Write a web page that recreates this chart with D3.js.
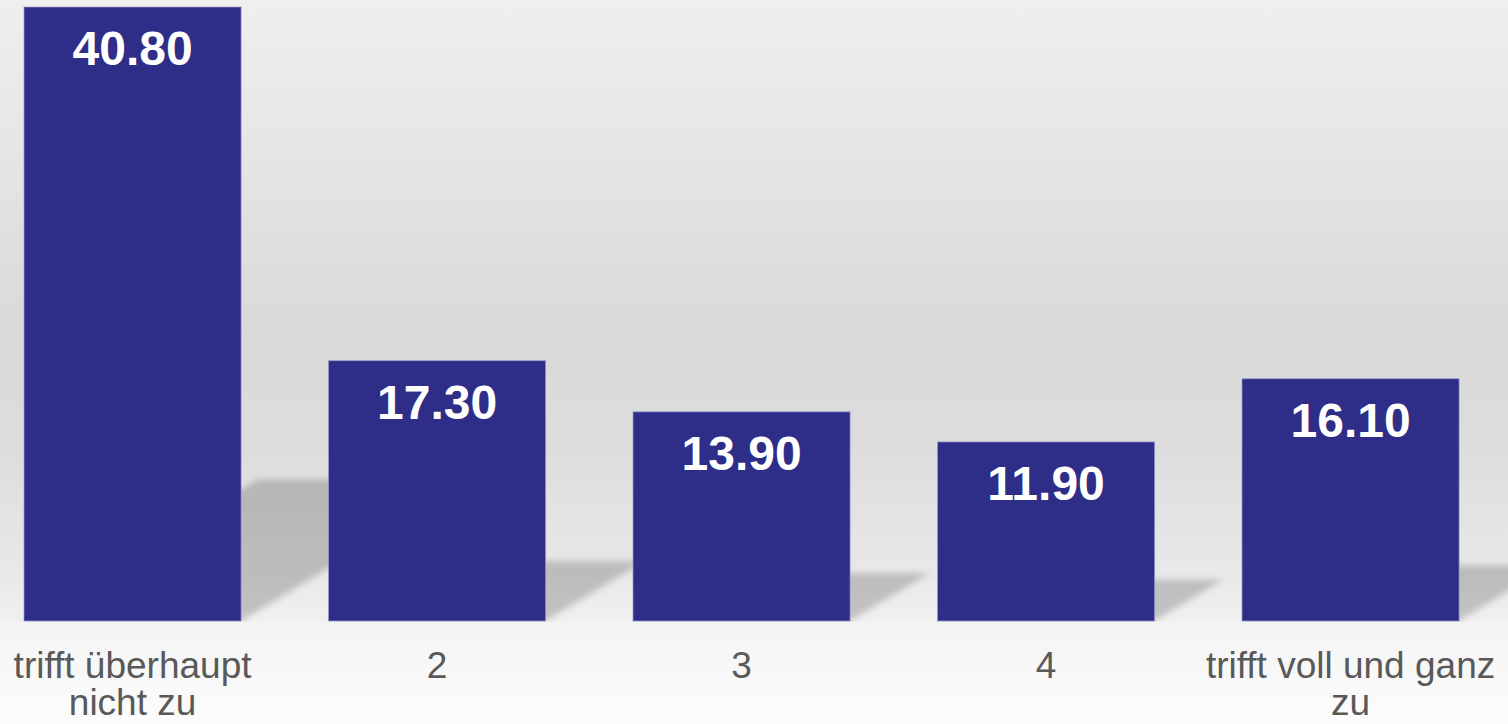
<!DOCTYPE html>
<html>
<head>
<meta charset="utf-8">
<script src="https://cdn.jsdelivr.net/npm/d3@7"></script>
<style>
  html, body { margin: 0; padding: 0; background: #ffffff; }
  svg { display: block; }
</style>
</head>
<body>
<svg id="chart" width="1508" height="724"></svg>
<script>
// Answer categories and their shares
const categories = ["trifft überhaupt nicht zu", "2", "3", "4", "trifft voll und ganz zu"];
const values = [40.80, 17.30, 13.90, 11.90, 16.10];
const valueLabels = ["40.80", "17.30", "13.90", "11.90", "16.10"];

const width = 1508, height = 724;
const baseY = 621, topY = 7;

const svg = d3.select("#chart");
const defs = svg.append("defs");

// Background: soft grey studio gradient with a lighter floor
const bg = defs.append("linearGradient")
  .attr("id", "bgGrad").attr("x1", 0).attr("y1", 0).attr("x2", 0).attr("y2", 1);
[[0, "#efefef"], [0.2, "#e6e6e6"], [0.46, "#d9d9d9"], [0.62, "#dddddd"],
 [0.8, "#e9e9e9"], [0.857, "#f0f0f0"], [0.86, "#f4f4f4"], [1, "#fcfcfc"]]
  .forEach(([o, c]) => bg.append("stop").attr("offset", o).attr("stop-color", c));

svg.append("rect").attr("width", width).attr("height", height).attr("fill", "url(#bgGrad)");

// Blur for cast shadows
defs.append("filter").attr("id", "shadowBlur")
  .attr("x", "-20%").attr("y", "-20%").attr("width", "140%").attr("height", "140%")
  .append("feGaussianBlur").attr("stdDeviation", 3);

defs.append("clipPath").attr("id", "floorClip")
  .append("rect").attr("x", 0).attr("y", 0).attr("width", width).attr("height", baseY + 1);

const x = d3.scaleBand()
  .domain(categories)
  .range([-19.7, 1502.8])
  .paddingInner(0.287)
  .paddingOuter(0.1435);

const y = d3.scaleLinear().domain([0, 40.8]).range([baseY, topY]);

const data = categories.map((c, i) => ({ cat: c, value: values[i], label: valueLabels[i] }));

// Cast shadows, skewed to the right of each bar
const shadowPath = d => {
  const L = x(d.cat), R = x(d.cat) + x.bandwidth();
  const b = y(0), h = y(0) - y(d.value);
  const dx = 0.38 * h, dy = 0.23 * h;
  return `M${L},${b} L${R},${b} L${R + dx},${b - dy} L${L + dx},${b - dy} Z`;
};

svg.append("g").attr("clip-path", "url(#floorClip)")
  .selectAll("path.shadow").data(data).join("path")
  .attr("class", "shadow")
  .attr("d", shadowPath)
  .attr("fill", "#000")
  .attr("fill-opacity", 0.19)
  .attr("filter", "url(#shadowBlur)");

// Bars
svg.append("g").selectAll("rect.bar").data(data).join("rect")
  .attr("class", "bar")
  .attr("x", d => x(d.cat))
  .attr("y", d => y(d.value))
  .attr("width", x.bandwidth())
  .attr("height", d => y(0) - y(d.value))
  .attr("fill", "#2e2d88")
  .attr("stroke", "#9c9cd0")
  .attr("stroke-opacity", 0.7)
  .attr("stroke-width", 1);

// Value labels inside the top of each bar
svg.append("g").selectAll("text.value").data(data).join("text")
  .attr("class", "value")
  .attr("x", d => x(d.cat) + x.bandwidth() / 2)
  .attr("y", d => y(d.value) + 58)
  .attr("text-anchor", "middle")
  .attr("fill", "#ffffff")
  .attr("font-family", "Liberation Sans, Arial, sans-serif")
  .attr("font-weight", "bold")
  .attr("font-size", 48)
  .text(d => d.label);

// Category axis labels, wrapped to the band step
const axis = d3.axisBottom(x).tickSize(0).tickPadding(0);
const axisG = svg.append("g").attr("transform", `translate(0,${baseY})`).call(axis);
axisG.select(".domain").remove();

const firstLine = 57, lineHeight = 37;
axisG.selectAll(".tick text")
  .attr("fill", "#595959")
  .attr("font-family", "Liberation Sans, Arial, sans-serif")
  .attr("font-size", 37)
  .attr("dy", null)
  .attr("y", firstLine)
  .each(function () {
    const t = d3.select(this);
    const words = t.text().split(/\s+/);
    const maxW = x.step();
    t.text(null);
    let line = [];
    let lineNo = 0;
    let tspan = t.append("tspan").attr("x", 0).attr("y", firstLine);
    words.forEach(w => {
      line.push(w);
      tspan.text(line.join(" "));
      if (tspan.node().getComputedTextLength() > maxW && line.length > 1) {
        line.pop();
        tspan.text(line.join(" "));
        line = [w];
        lineNo++;
        tspan = t.append("tspan").attr("x", 0).attr("y", firstLine + lineNo * lineHeight).text(w);
      }
    });
  });
</script>
</body>
</html>
